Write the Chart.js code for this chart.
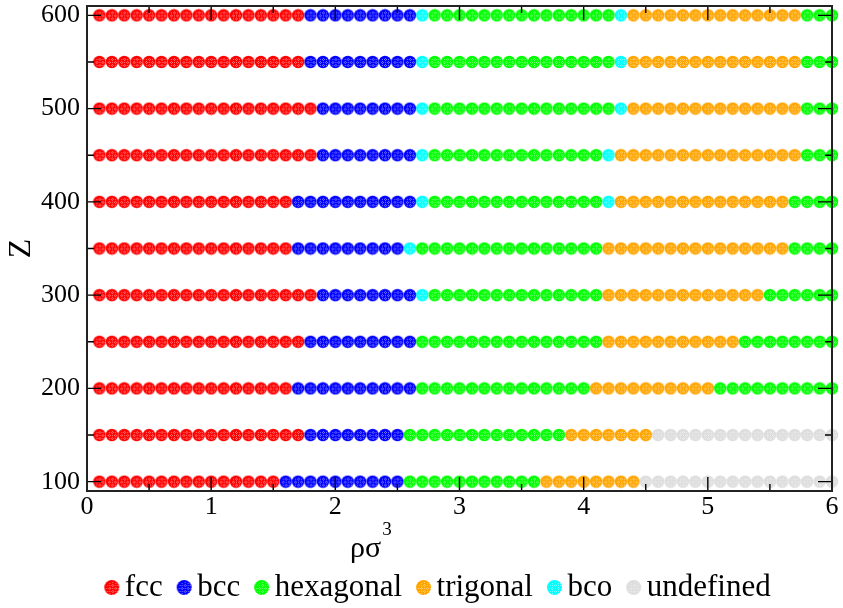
<!DOCTYPE html>
<html>
<head>
<meta charset="utf-8">
<script src="https://cdn.jsdelivr.net/npm/chart.js@4.4.1/dist/chart.umd.min.js"></script>
<style>
html,body{margin:0;padding:0;background:#fff;}
#wrap{width:843px;height:608px;}
</style>
</head>
<body>
<div id="wrap"><canvas id="c" width="843" height="608"></canvas></div>
<script>
// ---- data ----
const density = [0.1,0.2,0.3,0.4,0.5,0.6,0.7,0.8,0.9,1.0,1.1,1.2,1.3,1.4,1.5,1.6,1.7,1.8,1.9,2.0,
                 2.1,2.2,2.3,2.4,2.5,2.6,2.7,2.8,2.9,3.0,3.1,3.2,3.3,3.4,3.5,3.6,3.7,3.8,3.9,4.0,
                 4.1,4.2,4.3,4.4,4.5,4.6,4.7,4.8,4.9,5.0,5.1,5.2,5.3,5.4,5.5,5.6,5.7,5.8,5.9,6.0];
const zLevels = [100,150,200,250,300,350,400,450,500,550,600];
const phaseNames = ['fcc','bcc','hexagonal','trigonal','bco','undefined'];
const phaseColors = ['#ff0000','#0000ff','#00ff00','#ffa500','#00ffff','#dddddd'];
// consecutive runs of phases along density (number of points in each run)
const runsZ100 = [['fcc',15],['bcc',10],['hexagonal',11],['trigonal',8],['undefined',16]];
const runsZ150 = [['fcc',17],['bcc',8],['hexagonal',13],['trigonal',7],['undefined',15]];
const runsZ200 = [['fcc',16],['bcc',10],['hexagonal',14],['trigonal',10],['hexagonal',10]];
const runsZ250 = [['fcc',17],['bcc',9],['hexagonal',15],['trigonal',11],['hexagonal',8]];
const runsZ300 = [['fcc',18],['bcc',8],['bco',1],['hexagonal',14],['trigonal',13],['hexagonal',6]];
const runsZ350 = [['fcc',16],['bcc',9],['bco',1],['hexagonal',15],['trigonal',15],['hexagonal',4]];
const runsZ400 = [['fcc',16],['bcc',10],['bco',1],['hexagonal',14],['bco',1],['trigonal',14],['hexagonal',4]];
const runsZ450 = [['fcc',18],['bcc',8],['bco',1],['hexagonal',14],['bco',1],['trigonal',15],['hexagonal',3]];
const runsZ500 = [['fcc',18],['bcc',8],['bco',1],['hexagonal',15],['bco',1],['trigonal',14],['hexagonal',3]];
const runsZ550 = [['fcc',17],['bcc',9],['bco',1],['hexagonal',15],['bco',1],['trigonal',14],['hexagonal',3]];
const runsZ600 = [['fcc',17],['bcc',9],['bco',1],['hexagonal',15],['bco',1],['trigonal',14],['hexagonal',3]];
const rowRuns = [runsZ100,runsZ150,runsZ200,runsZ250,runsZ300,runsZ350,runsZ400,runsZ450,runsZ500,runsZ550,runsZ600];
const xTicks = [0,1,2,3,4,5,6];
const xMinorTicks = [0.5,1.5,2.5,3.5,4.5,5.5];
const yTicks = [100,200,300,400,500,600];
const yMinorTicks = [150,250,350,450,550];

// ---- markers ----
function makeMarker(color, r, shift){
  const pad = 1;
  const w = Math.round(2*(r+pad+shift)), h = Math.round(2*(r+pad));
  const c = document.createElement('canvas');
  c.width = w; c.height = h;
  const g = c.getContext('2d');
  const cx = w/2 + shift, cy = h/2;
  g.fillStyle = color;
  g.beginPath(); g.arc(cx, cy, r, 0, Math.PI*2); g.fill();
  g.globalCompositeOperation = 'source-atop';
  g.fillStyle = 'rgba(255,255,255,0.45)';
  const ox = Math.round(cx), oy = Math.round(cy);
  for (let y = 0; y < h; y++) {
    for (let x = 0; x < w; x++) {
      const dx = x - ox, dy = y - oy;
      if (dx*dx + dy*dy > (r-1.5)*(r-1.5)) continue;
      const onLine = (((dx%3)+3)%3 === 0) || (((dy%3)+3)%3 === 0);
      if (onLine && ((x+y)%2 === 0)) g.fillRect(x, y, 1, 1);
    }
  }
  return c;
}
const plotMarkers = phaseColors.map(col => makeMarker(col, 6.2, 0));
const legendMarkers = phaseColors.map(col => makeMarker(col, 7.5, 10));

// ---- datasets built from the arrays ----
const datasets = phaseNames.map((name, k) => {
  const pts = [];
  rowRuns.forEach((runs, r) => {
    let idx = 0;
    runs.forEach(([ph, n]) => {
      for (let j = 0; j < n; j++) {
        if (ph === name) pts.push({x: density[idx], y: zLevels[r]});
        idx++;
      }
    });
  });
  return {
    label: name,
    data: pts,
    pointStyle: plotMarkers[k],
    pointRadius: 6.2,
    pointHoverRadius: 6.2,
    backgroundColor: phaseColors[k],
    borderColor: phaseColors[k],
    showLine: false,
    clip: false
  };
});

const SERIF = "'Liberation Serif', 'DejaVu Serif', serif";

const framePlugin = {
  id: 'frame',
  afterDatasetsDraw(chart){
    const {ctx, chartArea: a} = chart;
    const xs = chart.scales.x, ys = chart.scales.y;
    ctx.save();
    ctx.strokeStyle = '#000';
    ctx.lineWidth = 1.4;
    ctx.beginPath();
    const major = 14, minor = 7;
    xTicks.forEach(v => { const p = xs.getPixelForValue(v);
      ctx.moveTo(p, a.bottom); ctx.lineTo(p, a.bottom - major);
      ctx.moveTo(p, a.top); ctx.lineTo(p, a.top + major); });
    xMinorTicks.forEach(v => { const p = xs.getPixelForValue(v);
      ctx.moveTo(p, a.bottom); ctx.lineTo(p, a.bottom - minor);
      ctx.moveTo(p, a.top); ctx.lineTo(p, a.top + minor); });
    yTicks.forEach(v => { const p = ys.getPixelForValue(v);
      ctx.moveTo(a.left, p); ctx.lineTo(a.left + major, p);
      ctx.moveTo(a.right, p); ctx.lineTo(a.right - major, p); });
    yMinorTicks.forEach(v => { const p = ys.getPixelForValue(v);
      ctx.moveTo(a.left, p); ctx.lineTo(a.left + minor, p);
      ctx.moveTo(a.right, p); ctx.lineTo(a.right - minor, p); });
    ctx.stroke();
    ctx.strokeStyle = '#222';
    ctx.lineWidth = 2;
    ctx.strokeRect(a.left, a.top, a.right - a.left, a.bottom - a.top);
    ctx.restore();
  },
  afterDraw(chart){
    const {ctx, chartArea: a} = chart;
    ctx.save();
    ctx.fillStyle = '#000';
    // y title
    ctx.font = '32px ' + SERIF;
    ctx.textAlign = 'center';
    ctx.textBaseline = 'middle';
    ctx.translate(22, (a.top + a.bottom)/2);
    ctx.rotate(-Math.PI/2);
    ctx.fillText('Z', 0, 0);
    ctx.restore();
    ctx.save();
    ctx.fillStyle = '#000';
    ctx.textAlign = 'left';
    ctx.textBaseline = 'alphabetic';
    ctx.font = '30px ' + SERIF;
    ctx.fillText('ρσ', 350, 557);
    const w = ctx.measureText('ρσ').width;
    ctx.font = '19px ' + SERIF;
    ctx.fillText('3', 350 + w + 1, 535);
    ctx.restore();
  }
};

new Chart(document.getElementById('c'), {
  type: 'scatter',
  data: { datasets },
  options: {
    responsive: false,
    animation: false,
    devicePixelRatio: 1,
    layout: { autoPadding: false, padding: { left: 33, right: 11, top: 6, bottom: 0 } },
    scales: {
      x: {
        type: 'linear', min: 0, max: 6,
        afterBuildTicks: s => { s.ticks = xTicks.map(v => ({value: v})); },
        afterFit: s => { s.height = 77; s.paddingLeft = 0; s.paddingRight = 0; s.paddingTop = 0; s.paddingBottom = 0; },
        grid: { display: false, drawTicks: false },
        border: { display: false },
        ticks: { color: '#000', font: { family: SERIF, size: 26 }, padding: 1, maxRotation: 0, autoSkip: false }
      },
      y: {
        type: 'linear', min: 90, max: 610,
        afterBuildTicks: s => { s.ticks = yTicks.map(v => ({value: v})); },
        afterFit: s => { s.width = 54; s.paddingLeft = 0; s.paddingRight = 0; s.paddingTop = 0; s.paddingBottom = 0; },
        grid: { display: false, drawTicks: false },
        border: { display: false },
        ticks: { color: '#000', font: { family: SERIF, size: 26 }, padding: 7, autoSkip: false }
      }
    },
    plugins: {
      legend: {
        position: 'bottom',
        maxHeight: 40,
        labels: {
          usePointStyle: true,
          boxWidth: 15,
          padding: 4,
          color: '#000',
          font: { family: SERIF, size: 31 },
          generateLabels(chart){
            const items = Chart.defaults.plugins.legend.labels.generateLabels(chart);
            items.forEach((it, i) => { it.pointStyle = legendMarkers[i]; it.fontColor = '#000'; });
            return items;
          }
        }
      },
      tooltip: { enabled: false }
    }
  },
  plugins: [framePlugin]
});
</script>
</body>
</html>
